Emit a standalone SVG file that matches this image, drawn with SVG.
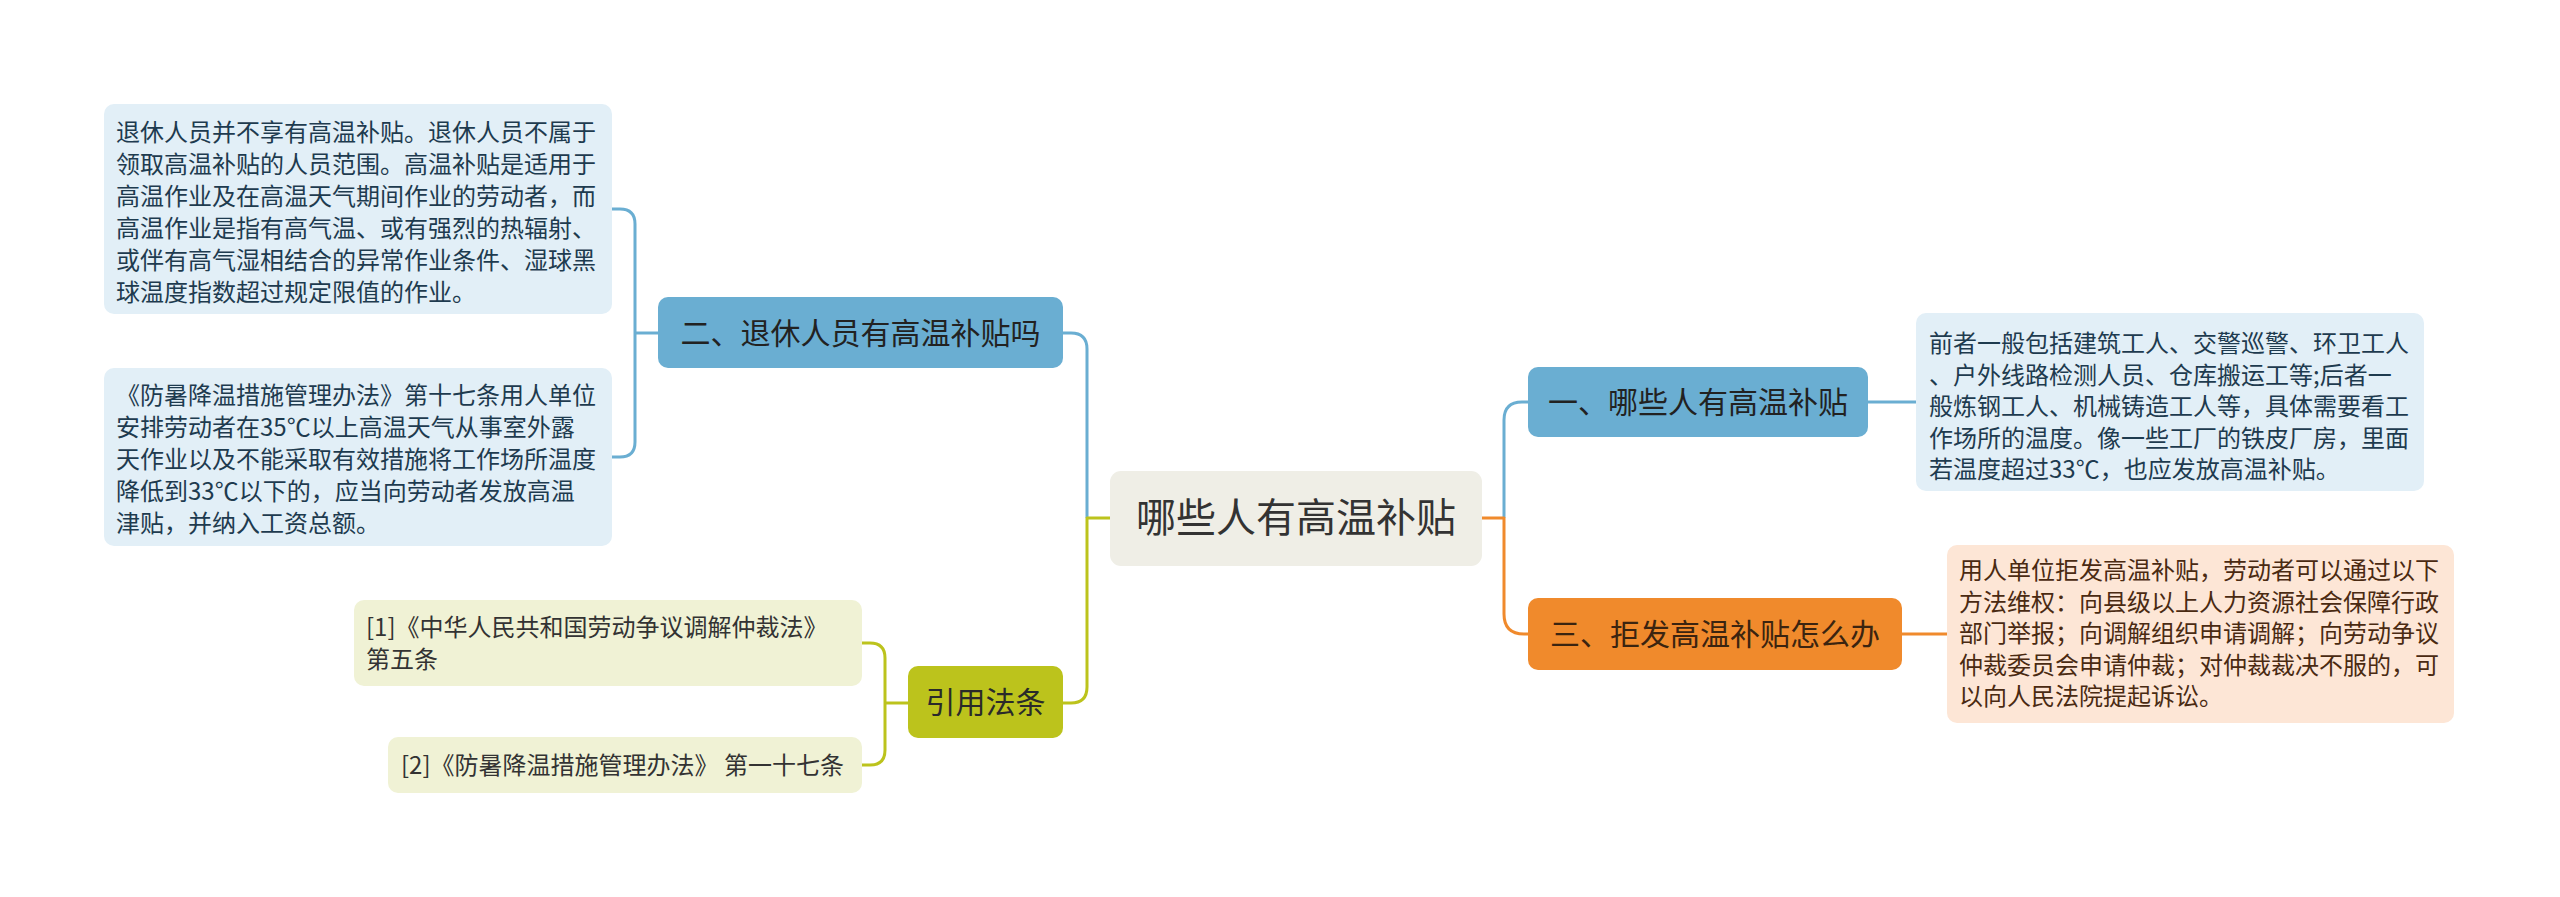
<svg xmlns="http://www.w3.org/2000/svg" width="2560" height="897" viewBox="0 0 2560 897">
<style>
text { font-family: "Noto Sans CJK SC", "Noto Sans", sans-serif; }
.c { fill: none; stroke-width: 3; stroke-linecap: butt; stroke-linejoin: round; }
.cb { stroke: #6aaed2; }
.cg { stroke: #bcc31c; }
.co { stroke: #f08a2c; }
.t24 { font-size: 24px; }
.t30 { font-size: 30px; }
.dblue { fill: #e2eff7; }
.dgreen { fill: #f0f2d5; }
.dorange { fill: #fde6d6; }
.tb { fill: #1e3b4f; }
.tg { fill: #333333; }
.to { fill: #4a2a12; }
</style>
<rect width="2560" height="897" fill="#ffffff"/>
<g id="connectors">
  <path class="c cb" d="M1063,333 H1071 Q1087,333 1087,349 V518"/>
  <path class="c cg" d="M1110,518 H1087 V687 Q1087,703 1071,703 H1063"/>
  <path class="c cb" d="M635,333 H658"/>
  <path class="c cb" d="M612,209 H620 Q635,209 635,224 V442 Q635,457 620,457 H612"/>
  <path class="c cg" d="M885,703 H908"/>
  <path class="c cg" d="M862,643 H870 Q885,643 885,658 V750 Q885,765 870,765 H862"/>
  <path class="c cb" d="M1504,518 V420 Q1504,402 1522,402 H1528"/>
  <path class="c co" d="M1482,518 H1504 V614 Q1504,634 1524,634 H1528"/>
  <path class="c cb" d="M1868,402 H1916"/>
  <path class="c co" d="M1902,634 H1947"/>
</g>
<g id="root">
  <rect x="1110" y="471" width="372" height="95" rx="11" fill="#efeee6"/>
  <text x="1296" y="532" font-size="40" text-anchor="middle" fill="#333333">哪些人有高温补贴</text>
</g>
<g id="n2">
  <rect x="658" y="297" width="405" height="71" rx="10" fill="#6aaed2"/>
  <text class="t30" x="860.5" y="344" text-anchor="middle" fill="#222222">二、退休人员有高温补贴吗</text>
</g>
<g id="n2a">
  <rect class="dblue" x="104" y="104" width="508" height="210" rx="10"/>
  <text class="t24 tb" x="116">
    <tspan x="116" y="141">退休人员并不享有高温补贴。退休人员不属于</tspan>
    <tspan x="116" y="173">领取高温补贴的人员范围。高温补贴是适用于</tspan>
    <tspan x="116" y="205">高温作业及在高温天气期间作业的劳动者，而</tspan>
    <tspan x="116" y="237">高温作业是指有高气温、或有强烈的热辐射、</tspan>
    <tspan x="116" y="269">或伴有高气湿相结合的异常作业条件、湿球黑</tspan>
    <tspan x="116" y="301">球温度指数超过规定限值的作业。</tspan>
  </text>
</g>
<g id="n2b">
  <rect class="dblue" x="104" y="368" width="508" height="178" rx="10"/>
  <text class="t24 tb" x="116">
    <tspan x="116" y="404">《防暑降温措施管理办法》第十七条用人单位</tspan>
    <tspan x="116" y="436">安排劳动者在35℃以上高温天气从事室外露</tspan>
    <tspan x="116" y="468">天作业以及不能采取有效措施将工作场所温度</tspan>
    <tspan x="116" y="500">降低到33℃以下的，应当向劳动者发放高温</tspan>
    <tspan x="116" y="532">津贴，并纳入工资总额。</tspan>
  </text>
</g>
<g id="cite">
  <rect x="908" y="666" width="155" height="72" rx="10" fill="#bcc31c"/>
  <text class="t30" x="985.5" y="713" text-anchor="middle" fill="#2a2a2a">引用法条</text>
</g>
<g id="cite1">
  <rect class="dgreen" x="354" y="600" width="508" height="86" rx="10"/>
  <text class="t24 tg">
    <tspan x="366" y="636">[1]《中华人民共和国劳动争议调解仲裁法》</tspan>
    <tspan x="366" y="668">第五条</tspan>
  </text>
</g>
<g id="cite2">
  <rect class="dgreen" x="388" y="737" width="474" height="56" rx="10"/>
  <text class="t24 tg" x="401" y="774">[2]《防暑降温措施管理办法》 第一十七条</text>
</g>
<g id="n1">
  <rect x="1528" y="367" width="340" height="70" rx="10" fill="#6aaed2"/>
  <text class="t30" x="1698" y="413" text-anchor="middle" fill="#222222">一、哪些人有高温补贴</text>
</g>
<g id="n1a">
  <rect class="dblue" x="1916" y="313" width="508" height="178" rx="10"/>
  <text class="t24 tb">
    <tspan x="1929" y="352">前者一般包括建筑工人、交警巡警、环卫工人</tspan>
    <tspan x="1929" y="383.5">、户外线路检测人员、仓库搬运工等;后者一</tspan>
    <tspan x="1929" y="415">般炼钢工人、机械铸造工人等，具体需要看工</tspan>
    <tspan x="1929" y="446.5">作场所的温度。像一些工厂的铁皮厂房，里面</tspan>
    <tspan x="1929" y="478">若温度超过33℃，也应发放高温补贴。</tspan>
  </text>
</g>
<g id="n3">
  <rect x="1528" y="598" width="374" height="72" rx="10" fill="#f08a2c"/>
  <text class="t30" x="1715" y="645" text-anchor="middle" fill="#3b2410">三、拒发高温补贴怎么办</text>
</g>
<g id="n3a">
  <rect class="dorange" x="1947" y="545" width="507" height="178" rx="10"/>
  <text class="t24 to">
    <tspan x="1959" y="579">用人单位拒发高温补贴，劳动者可以通过以下</tspan>
    <tspan x="1959" y="610.5">方法维权：向县级以上人力资源社会保障行政</tspan>
    <tspan x="1959" y="642">部门举报；向调解组织申请调解；向劳动争议</tspan>
    <tspan x="1959" y="673.5">仲裁委员会申请仲裁；对仲裁裁决不服的，可</tspan>
    <tspan x="1959" y="705">以向人民法院提起诉讼。</tspan>
  </text>
</g>
</svg>
